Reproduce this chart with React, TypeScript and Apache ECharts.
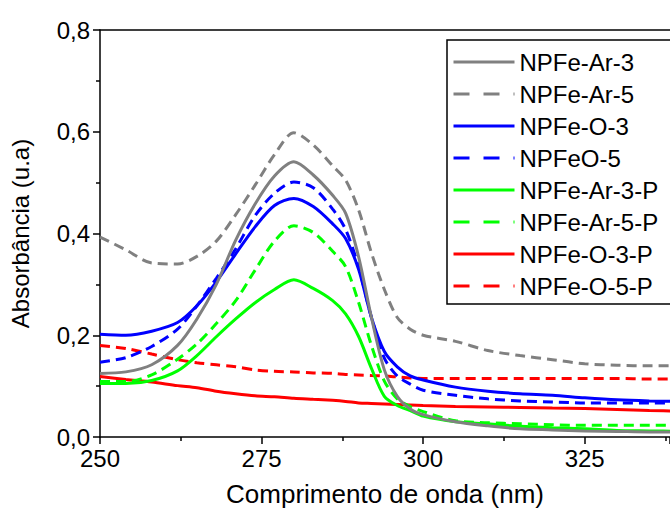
import React, { useEffect, useRef } from "react";
import * as echarts from "echarts";

const wavelengths = [250, 254, 258, 262, 265, 268, 271, 274, 277, 280, 283, 286, 288, 290, 292, 294, 296, 298, 300, 305, 310, 315, 320, 325, 330, 335, 340];

const arThree = [0.125, 0.128, 0.142, 0.18, 0.232, 0.3, 0.387, 0.458, 0.513, 0.541, 0.515, 0.475, 0.44, 0.355, 0.235, 0.132, 0.08, 0.055, 0.044, 0.03, 0.022, 0.016, 0.014, 0.012, 0.011, 0.01, 0.01];
const arFive = [0.393, 0.368, 0.342, 0.34, 0.355, 0.385, 0.437, 0.495, 0.555, 0.598, 0.574, 0.533, 0.505, 0.447, 0.362, 0.29, 0.235, 0.212, 0.2, 0.188, 0.17, 0.16, 0.152, 0.144, 0.141, 0.14, 0.14];
const oThree = [0.202, 0.2, 0.208, 0.225, 0.258, 0.305, 0.36, 0.413, 0.455, 0.469, 0.453, 0.419, 0.39, 0.33, 0.235, 0.168, 0.138, 0.12, 0.112, 0.098, 0.09, 0.085, 0.082, 0.077, 0.073, 0.071, 0.07];
const oFive = [0.147, 0.156, 0.178, 0.212, 0.258, 0.312, 0.37, 0.435, 0.479, 0.501, 0.49, 0.448, 0.408, 0.335, 0.235, 0.155, 0.12, 0.104, 0.092, 0.082, 0.075, 0.071, 0.069, 0.067, 0.067, 0.067, 0.067];
const arThreeP = [0.105, 0.105, 0.111, 0.13, 0.16, 0.197, 0.232, 0.264, 0.29, 0.309, 0.292, 0.268, 0.242, 0.198, 0.135, 0.08, 0.062, 0.052, 0.041, 0.03, 0.026, 0.021, 0.018, 0.016, 0.013, 0.012, 0.011];
const arFiveP = [0.109, 0.109, 0.122, 0.153, 0.183, 0.223, 0.268, 0.328, 0.385, 0.415, 0.402, 0.365, 0.335, 0.265, 0.18, 0.11, 0.075, 0.06, 0.05, 0.032, 0.028, 0.026, 0.024, 0.023, 0.023, 0.023, 0.023];
const oThreeP = [0.119, 0.113, 0.108, 0.101, 0.097, 0.09, 0.085, 0.081, 0.079, 0.076, 0.074, 0.072, 0.07, 0.067, 0.066, 0.065, 0.064, 0.063, 0.062, 0.06, 0.059, 0.058, 0.057, 0.056, 0.054, 0.052, 0.051];
const oFiveP = [0.18, 0.174, 0.163, 0.152, 0.146, 0.142, 0.138, 0.132, 0.129, 0.128, 0.126, 0.125, 0.123, 0.122, 0.121, 0.12, 0.118, 0.116, 0.115, 0.115, 0.115, 0.115, 0.115, 0.115, 0.115, 0.114, 0.114];

const seriesNames = ["NPFe-Ar-3", "NPFe-Ar-5", "NPFe-O-3", "NPFeO-5", "NPFe-Ar-3-P", "NPFe-Ar-5-P", "NPFe-O-3-P", "NPFe-O-5-P"];
const seriesValues = [arThree, arFive, oThree, oFive, arThreeP, arFiveP, oThreeP, oFiveP];
const seriesColors = ["#808080", "#808080", "#0000ff", "#0000ff", "#00ff00", "#00ff00", "#ff0000", "#ff0000"];
const seriesDashed = [false, true, false, true, false, true, false, true];

const xTitle = "Comprimento de onda (nm)";
const yTitle = "Absorbância (u.a)";

const FONT = "'Liberation Sans', Arial, sans-serif";

export default function App() {
  const ref = useRef<HTMLDivElement>(null);
  useEffect(() => {
    if (!ref.current) return;
    const chart = echarts.init(ref.current, null, { renderer: "svg" });
    const series = seriesNames.map((name, i) => ({
      name,
      type: "line",
      data: wavelengths.map((w, j) => [w, seriesValues[i][j]]),
      showSymbol: false,
      symbol: "none",
      smooth: 0.3,
      clip: true,
      color: seriesColors[i],
      lineStyle: {
        color: seriesColors[i],
        width: 3,
        type: seriesDashed[i] ? [10, 6] : "solid",
      },
      z: 10 - i,
    }));
    chart.setOption({
      animation: false,
      backgroundColor: "#ffffff",
      textStyle: { fontFamily: FONT },
      grid: { left: 95, right: 0, top: 30, bottom: 69 },
      legend: {
        orient: "vertical",
        left: 447,
        top: 40,
        padding: [10, 80, 6, 5],
        itemWidth: 61,
        itemHeight: 14,
        itemGap: 8,
        borderColor: "#000",
        borderWidth: 1.5,
        borderRadius: 0,
        itemStyle: { opacity: 0, borderWidth: 0 },
        textStyle: { fontFamily: FONT, fontSize: 24, color: "#000", lineHeight: 24 },
        data: seriesNames.map((n, i) => ({
          name: n,
          itemStyle: { opacity: 0, borderWidth: 0 },
          lineStyle: { color: seriesColors[i], width: 3, type: seriesDashed[i] ? [16, 14] : "solid", opacity: 1 },
        })),
      },
      xAxis: [
        {
          type: "value",
          min: 250,
          max: 338.2,
          interval: 25,
          name: xTitle,
          nameLocation: "middle",
          nameGap: 44,
          nameTextStyle: { fontFamily: FONT, fontSize: 26, color: "#000" },
          axisLine: { show: true, onZero: false, lineStyle: { color: "#000", width: 1.5 } },
          axisTick: { show: true, inside: false, length: 7, lineStyle: { color: "#000", width: 1.5 } },
          minorTick: { show: true, splitNumber: 2, length: 4, lineStyle: { color: "#000", width: 1.5 } },
          axisLabel: { fontFamily: FONT, fontSize: 24, color: "#000", margin: 9, showMaxLabel: false },
          splitLine: { show: false },
        },
        {
          type: "value",
          position: "top",
          min: 250,
          max: 338.2,
          interval: 25,
          axisLine: { show: true, onZero: false, lineStyle: { color: "#000", width: 1.5 } },
          axisTick: { show: false },
          axisLabel: { show: false },
          splitLine: { show: false },
        },
      ],
      yAxis: {
        type: "value",
        min: 0,
        max: 0.8,
        interval: 0.2,
        name: yTitle,
        nameLocation: "middle",
        nameGap: 68,
        nameTextStyle: { fontFamily: FONT, fontSize: 24, color: "#000" },
        axisLine: { show: true, onZero: false, lineStyle: { color: "#000", width: 1.5 } },
        axisTick: { show: true, inside: false, length: 7, lineStyle: { color: "#000", width: 1.5 } },
        minorTick: { show: true, splitNumber: 2, length: 4, lineStyle: { color: "#000", width: 1.5 } },
        axisLabel: {
          fontFamily: FONT,
          fontSize: 24,
          color: "#000",
          margin: 10,
          formatter: (v: number) => v.toFixed(1).replace(".", ","),
        },
        splitLine: { show: false },
      },
      series,
    });
    return () => chart.dispose();
  }, []);
  return <div ref={ref} style={{ width: 670, height: 512, position: "absolute", left: 0, top: 0 }} />;
}
